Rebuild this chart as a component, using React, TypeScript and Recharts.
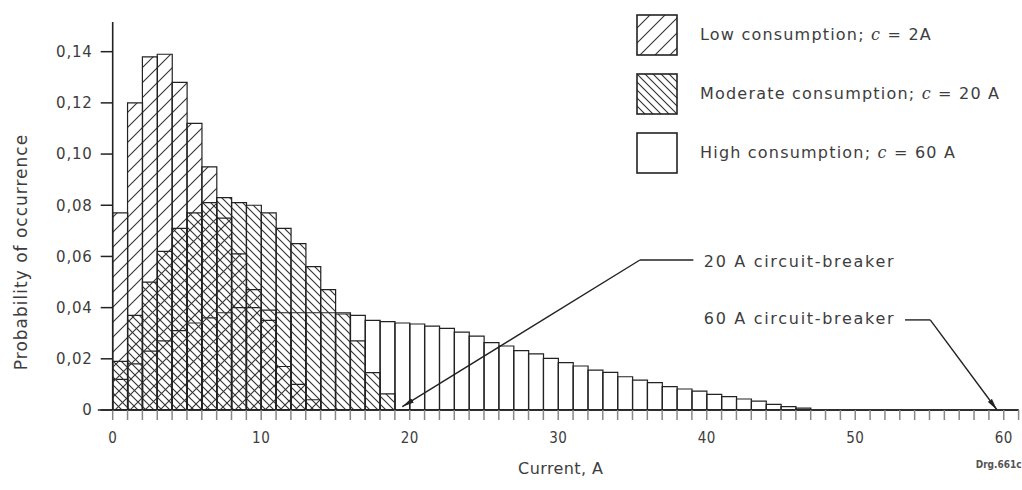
import React from 'react';
import {
  BarChart,
  Bar,
  XAxis,
  YAxis,
  Legend,
  Label,
  ReferenceLine,
  ReferenceDot,
} from 'recharts';

// probability per 1 A bin, bins start at 0 A
const lowConsumption = [
  0.077, 0.12, 0.138, 0.139, 0.128, 0.112, 0.095, 0.075, 0.061, 0.047, 0.035, 0.017, 0.01, 0.004,
];
const moderateConsumption = [
  0.019, 0.037, 0.05, 0.062, 0.071, 0.077, 0.081, 0.083, 0.081, 0.08, 0.077, 0.071, 0.065, 0.056,
  0.047, 0.0375, 0.027, 0.0146, 0.0063,
];
const highConsumption = [
  0.012, 0.018, 0.023, 0.027, 0.031, 0.034, 0.036, 0.038, 0.04, 0.04, 0.039, 0.038, 0.038, 0.038,
  0.038, 0.038, 0.037, 0.035, 0.0345, 0.034, 0.0336, 0.0328, 0.0319, 0.0304, 0.0289, 0.0263, 0.025,
  0.0232, 0.0219, 0.0202, 0.0185, 0.0172, 0.0156, 0.0147, 0.013, 0.0117, 0.0107, 0.0091, 0.0082,
  0.0074, 0.0061, 0.0052, 0.0043, 0.0035, 0.0022, 0.0013, 0.0007,
];

const xLabelTicks = [0, 10, 20, 30, 40, 50, 60];
const yTicks = [0, 0.02, 0.04, 0.06, 0.08, 0.1, 0.12, 0.14];

const legendItems = [
  { name: 'Low consumption; ', rest: ' = 2A', fill: 'url(#hatchLow)' },
  { name: 'Moderate consumption; ', rest: ' = 20 A', fill: 'url(#hatchModerate)' },
  { name: 'High consumption; ', rest: ' = 60 A', fill: '#fff' },
];

const rows = highConsumption.map((h, i) => ({
  current: i + 0.5,
  high: h,
  moderate: moderateConsumption[i],
  low: lowConsumption[i],
}));

const minorTicks = Array.from({ length: 62 }, (_, i) => i);

const FONT = '"DejaVu Sans", sans-serif';
const FONT_NARROW = '"DejaVu Sans Condensed", "DejaVu Sans", sans-serif';
const INK = '#222';
const TEXT = '#3d3d3d';

const fmtY = (v: number) => (v === 0 ? '0' : v.toFixed(2).replace('.', ','));
const fmtX = (v: number) => (xLabelTicks.includes(v) ? String(v) : '');

const arrowShape = (p: any) => (
  <line x1={p.x1} y1={p.y1} x2={p.x2} y2={p.y2} stroke={INK} strokeWidth={1.4} markerEnd="url(#arrowHead)" />
);

const plainShape = (p: any) => (
  <line x1={p.x1} y1={p.y1} x2={p.x2} y2={p.y2} stroke={INK} strokeWidth={1.4} />
);

const YTitle = (props: any) => {
  const vb = props.viewBox || { x: 0, y: 22, width: 113, height: 388 };
  const cx = vb.x + 21;
  const cy = vb.y + vb.height / 2 + 36;
  return (
    <text x={cx} y={cy} transform={`rotate(-90 ${cx} ${cy})`} textAnchor="middle" dominantBaseline="central"
      fontFamily={FONT} fontSize={17} letterSpacing={1} fill={TEXT}>
      Probability of occurrence
    </text>
  );
};

const XTitle = (props: any) => {
  const vb = props.viewBox || { x: 113, y: 410, width: 906, height: 80 };
  return (
    <g>
      <text x={vb.x + 448} y={vb.y + 64} textAnchor="middle" fontFamily={FONT} fontSize={16} letterSpacing={0.4} fill={TEXT}>
        Current, A
      </text>
      <text x={vb.x + vb.width + 3} y={vb.y + 58} textAnchor="end" fontFamily={FONT_NARROW} fontSize={10}
        fontWeight="bold" fill="#555">
        Drg.661c
      </text>
    </g>
  );
};

const renderLegend = () => (
  <div style={{ fontFamily: FONT, color: TEXT, fontSize: 16 }}>
    {legendItems.map((item) => (
      <div key={item.name} style={{ display: 'flex', alignItems: 'center', height: 59 }}>
        <svg width={42} height={42}>
          <rect x={1} y={1} width={40} height={40} fill={item.fill} stroke={INK} strokeWidth={1.6} />
        </svg>
        <span style={{ marginLeft: 22, letterSpacing: 1.2, whiteSpace: 'nowrap' }}>
          {item.name}
          <span style={{ fontStyle: 'italic', fontFamily: '"DejaVu Serif", serif' }}>c</span>
          {item.rest}
        </span>
      </div>
    ))}
  </div>
);

const annotationLabel = (value: string) => ({
  value,
  position: 'right' as const,
  offset: 0,
  fill: TEXT,
  fontSize: 16,
  fontFamily: FONT,
  letterSpacing: 1.7,
});

export default function App() {
  return (
    <div style={{ position: 'absolute', left: 0, top: 0, background: '#fff' }}>
      <BarChart
        width={1022}
        height={490}
        data={rows}
        margin={{ top: 22, right: 3.4, bottom: 0, left: 0 }}
        barCategoryGap={0}
        barGap={0}
      >
        <defs>
          <pattern id="hatchLow" patternUnits="userSpaceOnUse" width={15} height={15}>
            <path d="M-4,4 L4,-4 M0,15 L15,0 M11,19 L19,11" stroke="#333" strokeWidth={1.1} />
          </pattern>
          <pattern id="hatchModerate" patternUnits="userSpaceOnUse" width={8} height={8}>
            <path d="M-2,6 L2,10 M0,0 L8,8 M6,-2 L10,2" stroke="#333" strokeWidth={1.15} />
          </pattern>
          <marker id="arrowHead" viewBox="0 0 12 6" refX={12} refY={3} markerWidth={12} markerHeight={6}
            orient="auto" markerUnits="userSpaceOnUse">
            <path d="M0,0.5 L12,3 L0,5.5 z" fill={INK} />
          </marker>
        </defs>

        <XAxis
          type="number"
          dataKey="current"
          domain={[0, 61]}
          ticks={minorTicks}
          interval={0}
          tickFormatter={fmtX}
          height={80}
          tickSize={10}
          tickMargin={12}
          axisLine={{ stroke: INK, strokeWidth: 1.6 }}
          tickLine={{ stroke: '#888', strokeWidth: 1.5 }}
          tick={{ fill: TEXT, fontSize: 15, fontFamily: FONT_NARROW, letterSpacing: 0.5 }}
        >
          <Label content={XTitle} />
        </XAxis>
        <XAxis xAxisId="moderate" type="number" dataKey="current" domain={[0, 61]} hide />
        <XAxis xAxisId="low" type="number" dataKey="current" domain={[0, 61]} hide />
        <YAxis
          type="number"
          domain={[0, 0.1516]}
          ticks={yTicks}
          interval={0}
          allowDataOverflow
          tickFormatter={fmtY}
          width={112.7}
          tickSize={12}
          tickMargin={8}
          axisLine={{ stroke: INK, strokeWidth: 1.6 }}
          tickLine={{ stroke: INK, strokeWidth: 1.5 }}
          tick={{ fill: TEXT, fontSize: 15, fontFamily: FONT, letterSpacing: 0.8 }}
        >
          <Label content={YTitle} />
        </YAxis>

        <Legend
          layout="vertical"
          align="center"
          verticalAlign="middle"
          content={renderLegend}
          wrapperStyle={{ top: 5, left: 636, width: 386, height: 180 }}
        />

        <Bar dataKey="high" fill="none" stroke={INK} strokeWidth={1.2} isAnimationActive={false} />
        <Bar xAxisId="moderate" dataKey="moderate" fill="url(#hatchModerate)" stroke={INK} strokeWidth={1.2}
          isAnimationActive={false} />
        <Bar xAxisId="low" dataKey="low" fill="url(#hatchLow)" stroke={INK} strokeWidth={1.2}
          isAnimationActive={false} />

        <ReferenceLine
          segment={[{ x: -1, y: 0 }, { x: 61, y: 0 }]}
          stroke={INK}
          strokeWidth={1.6}
          ifOverflow="visible"
        />

        <ReferenceLine segment={[{ x: 35.5, y: 0.0586 }, { x: 39.1, y: 0.0586 }]} shape={plainShape} ifOverflow="visible" />
        <ReferenceLine segment={[{ x: 35.5, y: 0.0586 }, { x: 19.5, y: 0.0013 }]} shape={arrowShape} ifOverflow="visible" />
        <ReferenceDot x={39.8} y={0.0582} r={0} ifOverflow="visible" label={annotationLabel('20 A circuit-breaker')} />

        <ReferenceLine segment={[{ x: 53.35, y: 0.0352 }, { x: 55.05, y: 0.0352 }]} shape={plainShape} ifOverflow="visible" />
        <ReferenceLine segment={[{ x: 55.05, y: 0.0352 }, { x: 59.55, y: 0 }]} shape={arrowShape} ifOverflow="visible" />
        <ReferenceDot x={39.8} y={0.0358} r={0} ifOverflow="visible" label={annotationLabel('60 A circuit-breaker')} />
      </BarChart>
    </div>
  );
}
